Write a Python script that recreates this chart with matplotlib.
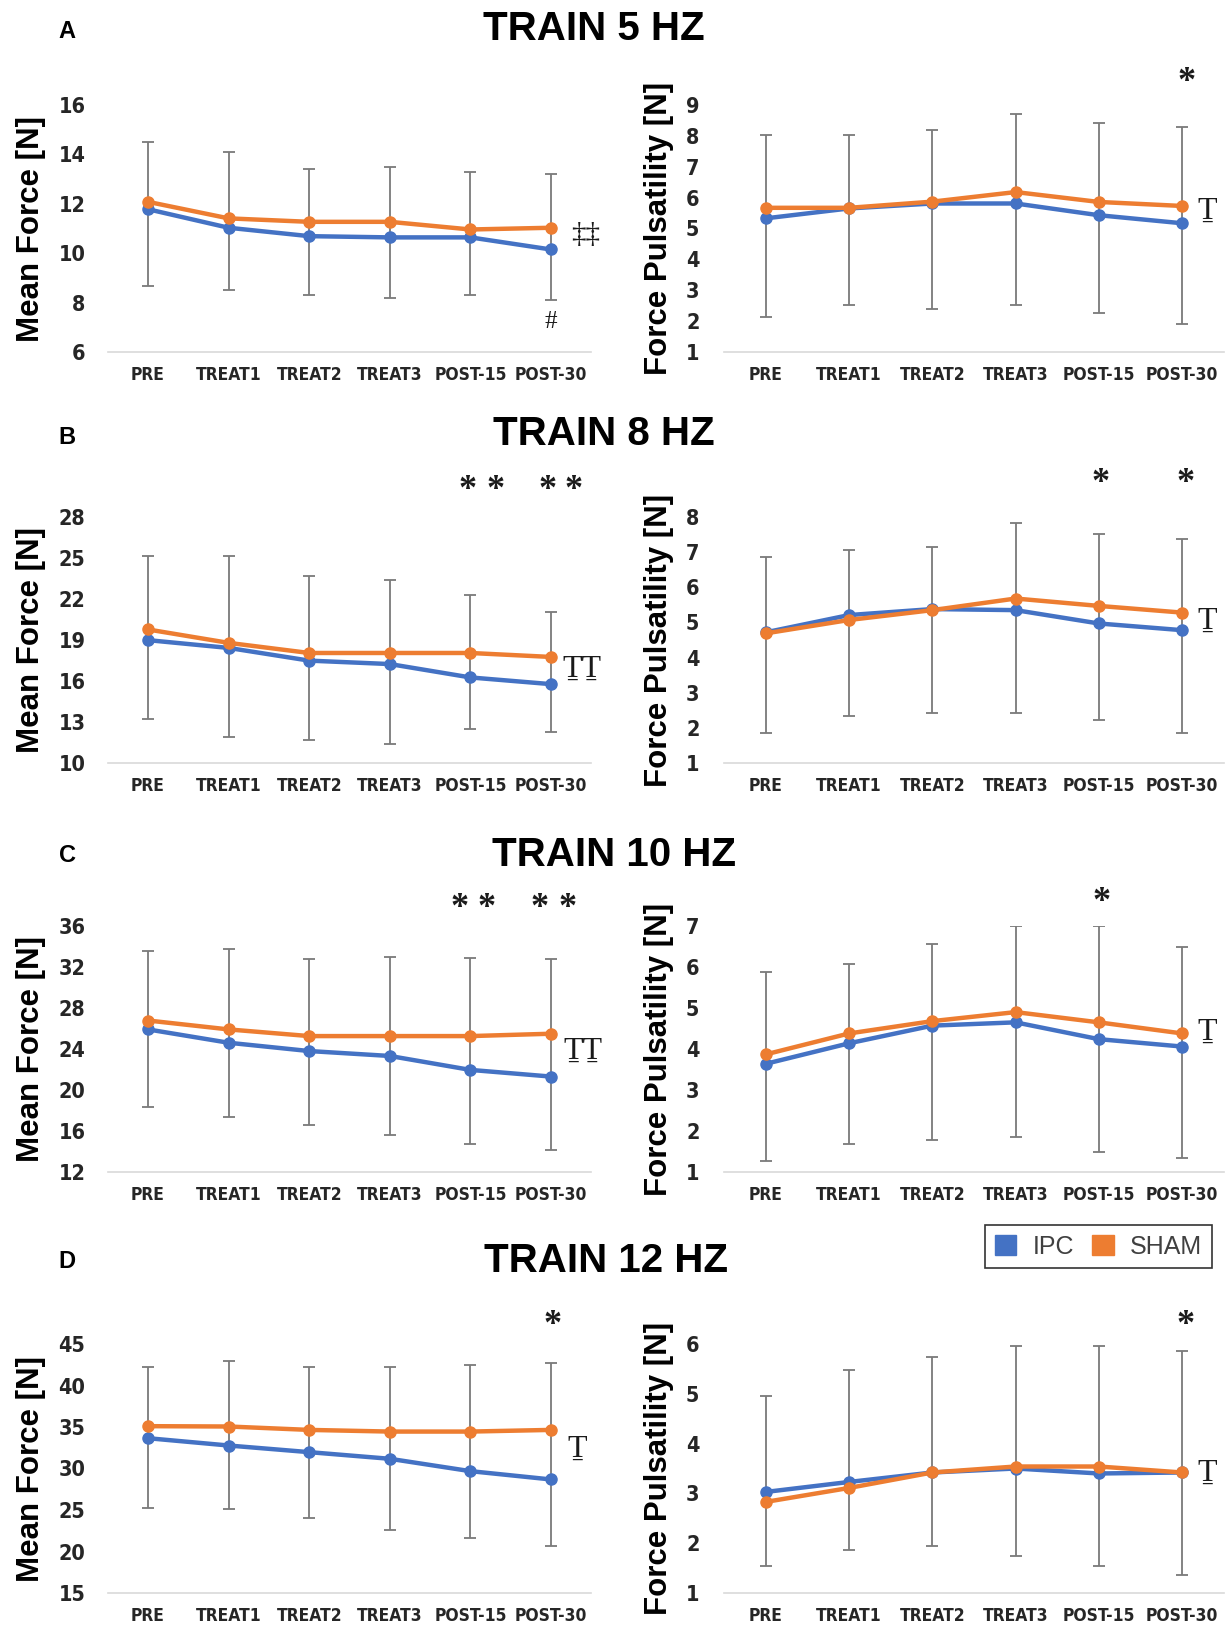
import matplotlib
matplotlib.use("Agg")
import matplotlib.pyplot as plt
from matplotlib.patches import Patch
import numpy as np

categories = ['PRE', 'TREAT1', 'TREAT2', 'TREAT3', 'POST-15', 'POST-30']
series_names = ['IPC', 'SHAM']

# TRAIN 5 HZ
mf5_ipc = [11.78, 11.03, 10.69, 10.64, 10.64, 10.15]
mf5_sham = [12.08, 11.41, 11.27, 11.27, 10.96, 11.03]
mf5_err_hi = [14.51, 14.11, 13.41, 13.50, 13.27, 13.20]
mf5_err_lo = [8.66, 8.53, 8.32, 8.19, 8.32, 8.12]
fp5_ipc = [5.33, 5.65, 5.81, 5.81, 5.43, 5.17]
fp5_sham = [5.67, 5.67, 5.87, 6.18, 5.86, 5.73]
fp5_err_hi = [8.04, 8.04, 8.20, 8.70, 8.41, 8.30]
fp5_err_lo = [2.13, 2.53, 2.40, 2.53, 2.25, 1.91]

# TRAIN 8 HZ
mf8_ipc = [18.99, 18.42, 17.49, 17.24, 16.26, 15.77]
mf8_sham = [19.77, 18.79, 18.05, 18.05, 18.05, 17.76]
mf8_err_hi = [25.18, 25.18, 23.65, 23.41, 22.28, 21.08]
mf8_err_lo = [13.19, 11.92, 11.67, 11.42, 12.46, 12.28]
fp8_ipc = [4.72, 5.21, 5.38, 5.35, 4.97, 4.78]
fp8_sham = [4.69, 5.07, 5.35, 5.68, 5.47, 5.28]
fp8_err_hi = [6.87, 7.07, 7.15, 7.83, 7.53, 7.36]
fp8_err_lo = [1.85, 2.34, 2.42, 2.42, 2.23, 1.85]

# TRAIN 10 HZ
mf10_ipc = [25.91, 24.61, 23.80, 23.32, 21.96, 21.31]
mf10_sham = [26.78, 25.91, 25.26, 25.26, 25.26, 25.49]
mf10_err_hi = [33.57, 33.73, 32.76, 33.02, 32.86, 32.76]
mf10_err_lo = [18.37, 17.40, 16.59, 15.62, 14.75, 14.10]
fp10_ipc = [3.64, 4.14, 4.57, 4.65, 4.24, 4.06]
fp10_sham = [3.87, 4.38, 4.68, 4.90, 4.65, 4.38]
fp10_err_hi = [5.89, 6.07, 6.56, 7.00, 7.00, 6.48]
fp10_err_lo = [1.27, 1.68, 1.77, 1.85, 1.48, 1.35]

# TRAIN 12 HZ
mf12_ipc = [33.65, 32.77, 31.97, 31.17, 29.68, 28.68]
mf12_sham = [35.10, 35.06, 34.65, 34.45, 34.45, 34.65]
mf12_err_hi = [42.20, 42.92, 42.28, 42.28, 42.48, 42.68]
mf12_err_lo = [25.23, 25.07, 24.03, 22.62, 21.62, 20.62]
fp12_ipc = [3.03, 3.23, 3.42, 3.50, 3.40, 3.42]
fp12_sham = [2.83, 3.11, 3.42, 3.54, 3.54, 3.42]
fp12_err_hi = [4.96, 5.48, 5.74, 5.95, 5.95, 5.85]
fp12_err_lo = [1.54, 1.86, 1.95, 1.75, 1.54, 1.37]

titles = ['TRAIN 5 HZ', 'TRAIN 8 HZ', 'TRAIN 10 HZ', 'TRAIN 12 HZ']
panel_letters = ['A', 'B', 'C', 'D']
mf_ticks = [[6, 8, 10, 12, 14, 16], [10, 13, 16, 19, 22, 25, 28],
            [12, 16, 20, 24, 28, 32, 36], [15, 20, 25, 30, 35, 40, 45]]
fp_ticks = [[1, 2, 3, 4, 5, 6, 7, 8, 9], [1, 2, 3, 4, 5, 6, 7, 8],
            [1, 2, 3, 4, 5, 6, 7], [1, 2, 3, 4, 5, 6]]

BLUE = '#4472C4'
ORANGE = '#ED7D31'
ERR = '#7A7A7A'
SANS = ['Liberation Sans', 'DejaVu Sans']
SERIF = ['Liberation Serif', 'DejaVu Serif']

W, H = 1226, 1625
fig = plt.figure(figsize=(W / 100, H / 100), dpi=100)

rows_px = [(105, 352), (517, 763), (926, 1172), (1344, 1593)]
left_px = (107.7, 591.3)
right_px = (724.4, 1223.6)

def make_ax(xpx, ypx):
    x0, x1 = xpx
    top, bot = ypx
    return fig.add_axes([x0 / W, 1 - bot / H, (x1 - x0) / W, (bot - top) / H])

def style(ax, ticks, ylabel, labx, pad):
    ax.set_xlim(-0.5, len(categories) - 0.5)
    ax.set_ylim(ticks[0], ticks[-1])
    ax.set_yticks(ticks)
    ax.set_xticks(range(len(categories)))
    ax.set_xticklabels(categories, fontfamily='DejaVu Sans', fontstretch='condensed',
                       fontweight='bold', fontsize=12.5, color='#262626')
    for lab in ax.get_yticklabels():
        lab.set_fontfamily('DejaVu Sans')
        lab.set_fontstretch('condensed')
        lab.set_fontweight('bold')
        lab.set_fontsize(15.5)
        lab.set_color('#262626')
    ax.tick_params(axis='both', length=0)
    ax.tick_params(axis='y', pad=pad)
    ax.tick_params(axis='x', pad=10)
    for s in ['top', 'right', 'left']:
        ax.spines[s].set_visible(False)
    ax.spines['bottom'].set_color('#D9D9D9')
    ax.spines['bottom'].set_linewidth(1.2)
    ax.set_ylabel(ylabel, fontfamily=SANS, fontweight='bold', fontsize=22.5, color='black',
                  va='center')
    ax.yaxis.set_label_coords(labx, 0.5)
    ax.patch.set_alpha(0)

def draw(ax, ipc, sham, hi, lo):
    x = np.arange(len(categories))
    ipc = np.array(ipc); sham = np.array(sham); hi = np.array(hi); lo = np.array(lo)
    ax.errorbar(x, ipc, yerr=[ipc - lo, hi - ipc], fmt='none', ecolor=ERR,
                elinewidth=1.3, capsize=4, capthick=1.3, zorder=1)
    ax.plot(x, ipc, color=BLUE, lw=3.2, marker='o', ms=8, zorder=3)
    ax.plot(x, sham, color=ORANGE, lw=3.2, marker='o', ms=8, zorder=4)

def note(ax, x, y, s, size=22, family=SERIF, weight='normal'):
    ax.text(x, y, s, fontsize=size, fontfamily=family, fontweight=weight, ha='center',
            va='center', color='#1a1a1a', clip_on=False, zorder=5)

def star(ax, x, y):
    note(ax, x, y, '*', size=26, weight='bold')

mf_data = [(mf5_ipc, mf5_sham, mf5_err_hi, mf5_err_lo),
           (mf8_ipc, mf8_sham, mf8_err_hi, mf8_err_lo),
           (mf10_ipc, mf10_sham, mf10_err_hi, mf10_err_lo),
           (mf12_ipc, mf12_sham, mf12_err_hi, mf12_err_lo)]
fp_data = [(fp5_ipc, fp5_sham, fp5_err_hi, fp5_err_lo),
           (fp8_ipc, fp8_sham, fp8_err_hi, fp8_err_lo),
           (fp10_ipc, fp10_sham, fp10_err_hi, fp10_err_lo),
           (fp12_ipc, fp12_sham, fp12_err_hi, fp12_err_lo)]

axes_l, axes_r = [], []
for i in range(4):
    axl = make_ax(left_px, rows_px[i])
    style(axl, mf_ticks[i], 'Mean Force [N]', -0.159, 16)
    draw(axl, *mf_data[i])
    axr = make_ax(right_px, rows_px[i])
    style(axr, fp_ticks[i], 'Force Pulsatility [N]', -0.131, 18)
    draw(axr, *fp_data[i])
    axes_l.append(axl); axes_r.append(axr)

# titles and panel letters
title_y = [29, 434, 855, 1261]
title_x = [594, 604, 614, 606]
letter_y = [31, 438, 855, 1262]
for i in range(4):
    fig.text(title_x[i] / W, 1 - title_y[i] / H, titles[i], fontsize=29, fontweight='bold',
             fontfamily=SANS, ha='center', va='center')
    fig.text(67 / W, 1 - letter_y[i] / H, panel_letters[i], fontsize=17, fontweight='bold',
             fontfamily=SANS, ha='center', va='center')

# significance marks
T = '\u1E6E'
note(axes_l[0], 5.43, 10.74, '\u2021\u2021', size=21)
note(axes_l[0], 5.0, 7.21, '#', size=18)
star(axes_r[0], 5.06, 9.72)
note(axes_r[0], 5.30, 5.55, T, size=23)

for xx in [3.96, 4.31, 4.96, 5.28]:
    star(axes_l[1], xx, 29.95)
note(axes_l[1], 5.38, 16.83, T + T, size=23)
for xx in [4.02, 5.04]:
    star(axes_r[1], xx, 8.96)
note(axes_r[1], 5.30, 5.04, T, size=23)

for xx in [3.86, 4.2, 4.86, 5.2]:
    star(axes_l[2], xx, 37.75)
note(axes_l[2], 5.40, 23.8, T + T, size=23)
star(axes_r[2], 4.03, 7.58)
note(axes_r[2], 5.30, 4.41, T, size=23)

star(axes_l[3], 5.02, 47.2)
note(axes_l[3], 5.32, 32.3, T, size=23)
star(axes_r[3], 5.04, 6.38)
note(axes_r[3], 5.30, 3.41, T, size=23)

# legend
handles = [Patch(facecolor=BLUE, edgecolor=BLUE), Patch(facecolor=ORANGE, edgecolor=ORANGE)]
leg = fig.legend(handles, series_names, loc='center', bbox_to_anchor=(1098.5 / W, 1 - 1246.5 / H),
                 ncol=2, frameon=True, fancybox=False, edgecolor='black', handlelength=0.85,
                 handleheight=0.85, handletextpad=0.66, columnspacing=0.74, borderpad=0.38,
                 prop={'family': SANS, 'size': 18})
leg.get_frame().set_linewidth(1.2)
for t in leg.get_texts():
    t.set_color('#404040')

fig.savefig('out.png', dpi=100, facecolor='white')
